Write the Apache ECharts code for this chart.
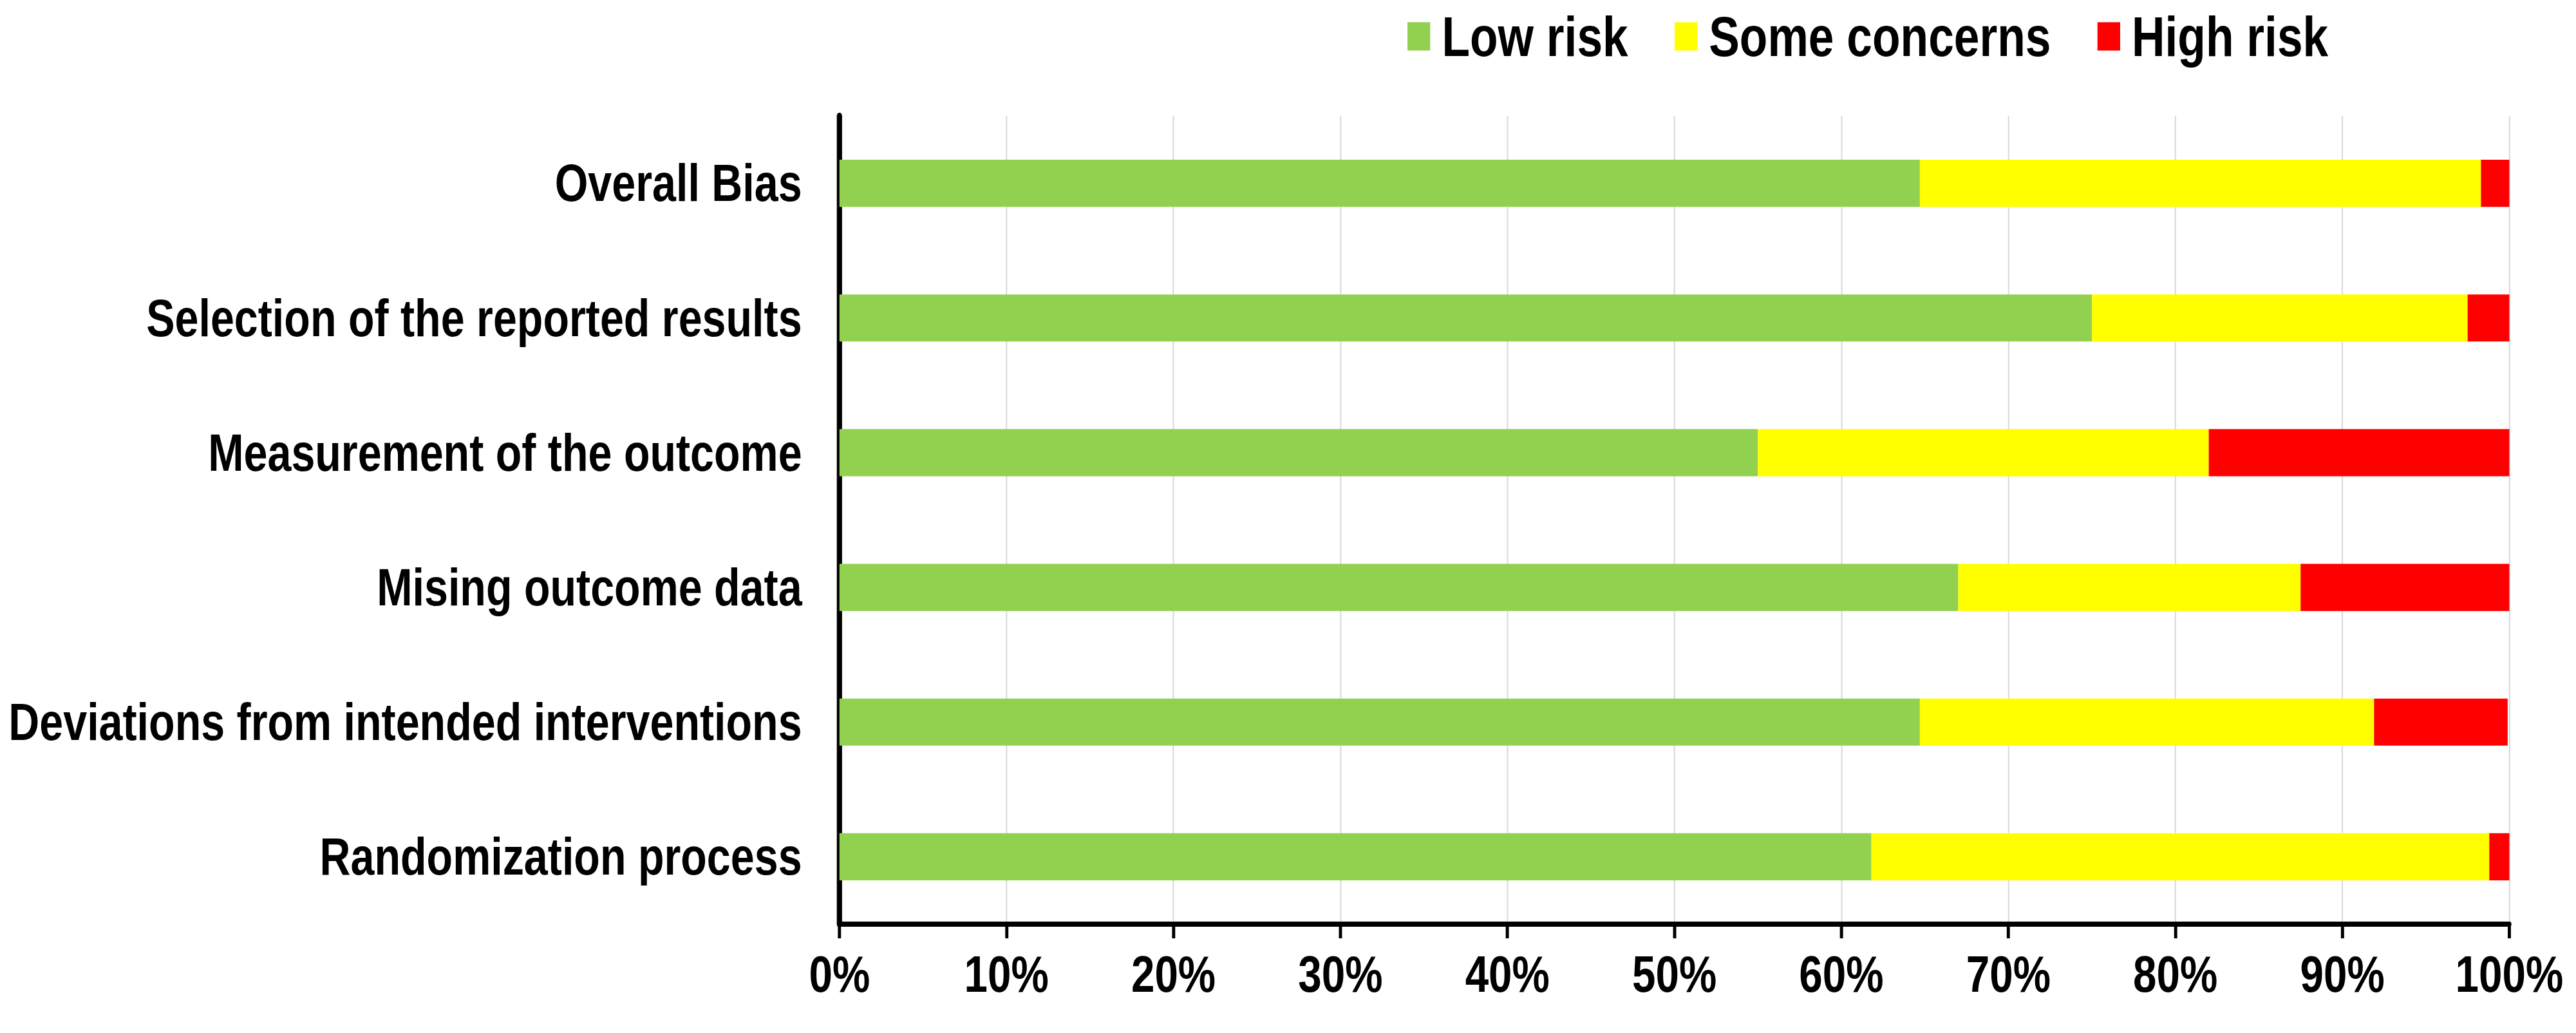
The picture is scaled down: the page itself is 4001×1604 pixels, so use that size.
<!DOCTYPE html>
<html>
<head>
<meta charset="utf-8">
<script src="https://cdn.jsdelivr.net/npm/echarts@6/dist/echarts.min.js"></script>
<style>
html,body{margin:0;padding:0;background:#fff;overflow:hidden;}
#wrap{width:4001px;height:1604px;overflow:hidden;position:relative;}
#c{width:4879px;height:1604px;transform:scaleX(0.82);transform-origin:0 0;position:absolute;left:0;top:0;}
</style>
</head>
<body>
<div id="wrap"><div id="c"></div></div>
<script>
const categories = [
  "Randomization process",
  "Deviations from intended interventions",
  "Mising outcome data",
  "Measurement of the outcome",
  "Selection of the reported results",
  "Overall Bias"
];
const lowRisk = [61.8, 64.7, 67.0, 55.0, 75.0, 64.7];
const someConcerns = [37.0, 27.2, 20.5, 27.0, 22.5, 33.6];
const highRisk = [1.2, 8.0, 12.5, 18.0, 2.5, 1.7];
const seriesNames = ["Low risk", "Some concerns", "High risk"];
const seriesColors = ["#92D050", "#FFFF00", "#FF0000"];
const xTicks = [0, 10, 20, 30, 40, 50, 60, 70, 80, 90, 100];

const K = 0.82; // horizontal compression of the whole drawing (text looks condensed)
const FONT = "'Liberation Sans', Arial, sans-serif";
const chart = echarts.init(document.getElementById('c'), null, {renderer: 'svg'});
const values = [lowRisk, someConcerns, highRisk];
chart.setOption({
  animation: false,
  backgroundColor: '#ffffff',
  legend: {
    top: 8,
    left: Math.round(2182 / K),
    itemWidth: Math.round(35 / K),
    itemHeight: 44,
    itemGap: Math.round(72 / K),
    icon: 'rect',
    textStyle: {fontFamily: FONT, fontWeight: 'bold', fontSize: 87, color: '#000', padding: [0, 0, 0, Math.round(14 / K)]},
    data: seriesNames
  },
  grid: {left: Math.round(1304 / K), right: Math.round(103 / K), top: 180, bottom: 169, containLabel: false, outerBoundsMode: 'none'},
  xAxis: {
    type: 'value',
    min: xTicks[0],
    max: xTicks[xTicks.length - 1],
    interval: 10,
    axisLine: {show: true, lineStyle: {color: '#000', width: 8}},
    axisTick: {show: true, length: 22, lineStyle: {color: '#000', width: 6}},
    splitLine: {show: true, lineStyle: {color: '#d9d9d9', width: 2.5}},
    axisLabel: {
      margin: 38,
      fontFamily: FONT, fontWeight: 'bold', fontSize: 80, color: '#000',
      formatter: v => v + '%'
    }
  },
  yAxis: {
    type: 'category',
    data: categories,
    axisLine: {show: true, lineStyle: {color: '#000', width: 10}},
    axisTick: {show: false},
    splitLine: {show: false},
    axisLabel: {margin: Math.round(58 / K), fontFamily: FONT, fontWeight: 'bold', fontSize: 81, color: '#000'}
  },
  series: seriesNames.map((n, i) => ({
    name: n,
    type: 'bar',
    stack: 'total',
    barWidth: '35%',
    itemStyle: {color: seriesColors[i]},
    data: values[i]
  }))
});
</script>
</body>
</html>
